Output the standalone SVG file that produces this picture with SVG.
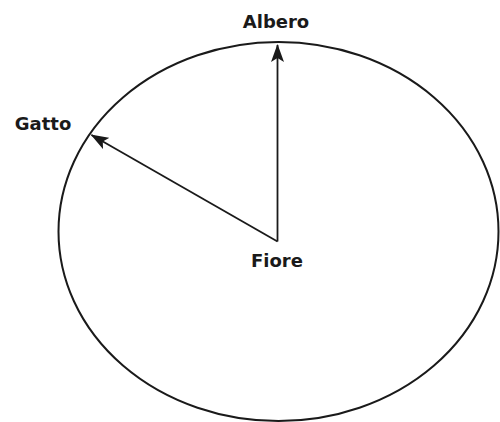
<svg xmlns="http://www.w3.org/2000/svg" width="500" height="422" viewBox="0 0 500 422">
<style>
.lbl{font-family:"DejaVu Sans","Liberation Sans",sans-serif;font-weight:bold;font-size:18px;fill:#1a1a1a;text-anchor:middle}
.edge{stroke:#1a1a1a;stroke-width:1.8;fill:none}
</style>
<defs>
<marker id="ah" viewBox="0 0 18 13" refX="17" refY="6.5" markerWidth="18" markerHeight="13" markerUnits="userSpaceOnUse" orient="auto">
<path d="M0,0 L18,6.5 L0,13 L4,6.5 Z" fill="#1a1a1a"/>
</marker>
</defs>
<rect width="500" height="422" fill="#fff"/>
<g id="ellipse"><ellipse cx="278.5" cy="231.5" rx="220" ry="189.5" fill="none" stroke="#1a1a1a" stroke-width="2"/></g>
<g id="connectors">
<line class="edge" x1="277.5" y1="241.5" x2="277.5" y2="45" marker-end="url(#ah)"/>
<line class="edge" x1="277.5" y1="241.5" x2="91.5" y2="135" marker-end="url(#ah)"/>
</g>
<g id="albero"><text class="lbl" x="276" y="28">Albero</text></g>
<g id="gatto"><text class="lbl" x="43" y="130">Gatto</text></g>
<g id="fiore"><text class="lbl" x="277" y="267">Fiore</text></g>
</svg>
